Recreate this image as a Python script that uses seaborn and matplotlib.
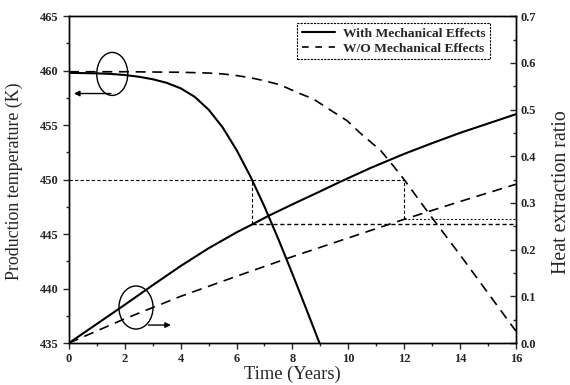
import numpy as np
import pandas as pd
import matplotlib
matplotlib.use("Agg")
import matplotlib.pyplot as plt
import seaborn as sns
from matplotlib.patches import Ellipse
from matplotlib.lines import Line2D
from matplotlib.ticker import MultipleLocator

# production temperature (K), with mechanical effects
t_temp_mech = [0, 1, 1.5, 2, 2.5, 3, 3.5, 4, 4.5, 5, 5.5, 6, 6.5, 7, 7.5, 8, 8.5, 9]
temp_mech = [459.8, 459.75, 459.7, 459.6, 459.44, 459.21, 458.88, 458.38, 457.6, 456.42,
             454.8, 452.72, 450.27, 447.52, 444.52, 441.35, 438.1, 434.8]

# production temperature (K), without mechanical effects
t_temp_nomech = [0, 2, 4, 5, 5.5, 6, 6.5, 6.95, 7.56, 8.17, 8.75, 9.35, 9.96, 10.5, 11.15,
                 11.6, 12, 13, 14, 15, 16]
temp_nomech = [459.9, 459.9, 459.85, 459.78, 459.7, 459.55, 459.35, 459.1, 458.7, 458.0,
               457.4, 456.4, 455.4, 454.1, 452.7, 451.3, 450.0, 446.5, 443.1, 439.6, 436.1]

# heat extraction ratio
t_ratio_mech = [0, 1, 2, 3, 4, 5, 6, 6.56, 7.13, 8, 9, 9.7, 10.8, 12, 13, 14, 15, 16]
ratio_mech = [0, 0.041, 0.082, 0.124, 0.165, 0.203, 0.237, 0.254, 0.272, 0.297, 0.325,
              0.345, 0.375, 0.405, 0.428, 0.45, 0.47, 0.49]
t_ratio_nomech = [0, 2, 4, 6, 8, 10, 12, 14, 16]
ratio_nomech = [0, 0.052, 0.1, 0.143, 0.185, 0.225, 0.265, 0.303, 0.34]

# guide rectangle (time at 450 K for each case, and the ratio reached then)
t_450_mech, t_450_nomech = 6.56, 12.0
r_450_mech, r_450_nomech = 0.254, 0.265

sns.set_style("ticks")
plt.rcParams['font.family'] = ['Liberation Serif', 'DejaVu Serif']

fig = plt.figure(figsize=(5.7, 3.85), dpi=100)
ax = fig.add_axes([0.121, 0.109, 0.784, 0.849])
ax2 = ax.twinx()

sns.lineplot(x=t_temp_mech, y=temp_mech, ax=ax, color='black', lw=1.5)
sns.lineplot(x=t_temp_nomech, y=temp_nomech, ax=ax, color='black', lw=1.2,
             linestyle=(0, (6, 4)))
sns.lineplot(x=t_ratio_mech, y=ratio_mech, ax=ax2, color='black', lw=1.5)
sns.lineplot(x=t_ratio_nomech, y=ratio_nomech, ax=ax2, color='black', lw=1.2,
             linestyle=(0, (6, 4)))

# dotted guide lines
r_top = (450 - 435) / 30 * 0.7
ax.plot([0, t_450_nomech], [450, 450], color='black', lw=0.8, ls=(0, (3, 2)))
ax2.plot([t_450_mech, t_450_mech], [r_450_mech, r_top], color='black', lw=0.8, ls=(0, (3, 2)))
ax2.plot([t_450_nomech, t_450_nomech], [r_450_nomech, r_top], color='black', lw=0.8, ls=(0, (3, 2)))
ax2.plot([t_450_mech, 16], [r_450_mech, r_450_mech], color='black', lw=1.0, ls=(0, (3, 2)))
ax2.plot([t_450_nomech, 16], [r_450_nomech, r_450_nomech], color='black', lw=0.7, ls=(0, (2, 2)))

# ellipses and arrows
ax.add_patch(Ellipse((1.55, 459.7), 1.11, 3.95, fill=False, ec='black', lw=1.0))
ax.annotate('', xy=(0.08, 457.9), xytext=(1.6, 457.9),
            arrowprops=dict(arrowstyle='-|>', color='black', lw=1.0, mutation_scale=8))
ax.add_patch(Ellipse((2.4, 438.26), 1.22, 3.95, fill=False, ec='black', lw=1.0))
ax.annotate('', xy=(3.75, 436.65), xytext=(2.75, 436.65),
            arrowprops=dict(arrowstyle='-|>', color='black', lw=1.0, mutation_scale=8))

ax.set_xlim(0, 16)
ax.set_ylim(435, 465)
ax2.set_ylim(0, 0.7)
ax.xaxis.set_major_locator(MultipleLocator(2))
ax.xaxis.set_minor_locator(MultipleLocator(1))
ax.yaxis.set_major_locator(MultipleLocator(5))
ax.yaxis.set_minor_locator(MultipleLocator(2.5))
ax2.yaxis.set_minor_locator(MultipleLocator(0.05))
ax2.set_yticks(np.arange(0, 0.71, 0.1))
ax2.set_yticklabels([f"{v:.1f}" for v in np.arange(0, 0.71, 0.1)])

ax.tick_params(which='both', direction='out', labelsize=9, width=1)
ax.tick_params(which='major', length=4)
ax.tick_params(which='minor', length=2.5)
ax2.tick_params(which='both', direction='in', labelsize=9, width=1)
ax2.tick_params(which='major', length=4)
ax2.tick_params(which='minor', length=2.5)
for lab in ax.get_xticklabels() + ax.get_yticklabels() + ax2.get_yticklabels():
    lab.set_fontweight('bold')
for a in (ax, ax2):
    for s in a.spines.values():
        s.set_linewidth(1.0)
        s.set_color('black')

ax.set_xlabel('Time (Years)', fontsize=13.3, labelpad=0)
ax.set_ylabel('Production temperature (K)', fontsize=12.9, va='center')
ax.yaxis.set_label_coords(-0.123, 0.495)
ax2.set_ylabel('Heat extraction ratio', fontsize=14.3, rotation=90, va='center')
ax2.yaxis.set_label_coords(1.103, 0.463)

handles = [Line2D([], [], color='black', lw=1.5),
           Line2D([], [], color='black', lw=1.2, ls=(0, (4, 4)))]
leg = ax2.legend(handles, ['With Mechanical Effects', 'W/O Mechanical Effects'],
                 loc='upper right', bbox_to_anchor=(0.942, 0.978), borderaxespad=0,
                 fancybox=False, framealpha=1, edgecolor='black', handlelength=2.5,
                 borderpad=0.3, labelspacing=0.2, handletextpad=0.6,
                 prop={'weight': 'bold', 'size': 9.7})
leg.get_frame().set_linewidth(0.8)
leg.get_frame().set_linestyle((0, (2, 1)))

fig.savefig('out.png', dpi=100)
